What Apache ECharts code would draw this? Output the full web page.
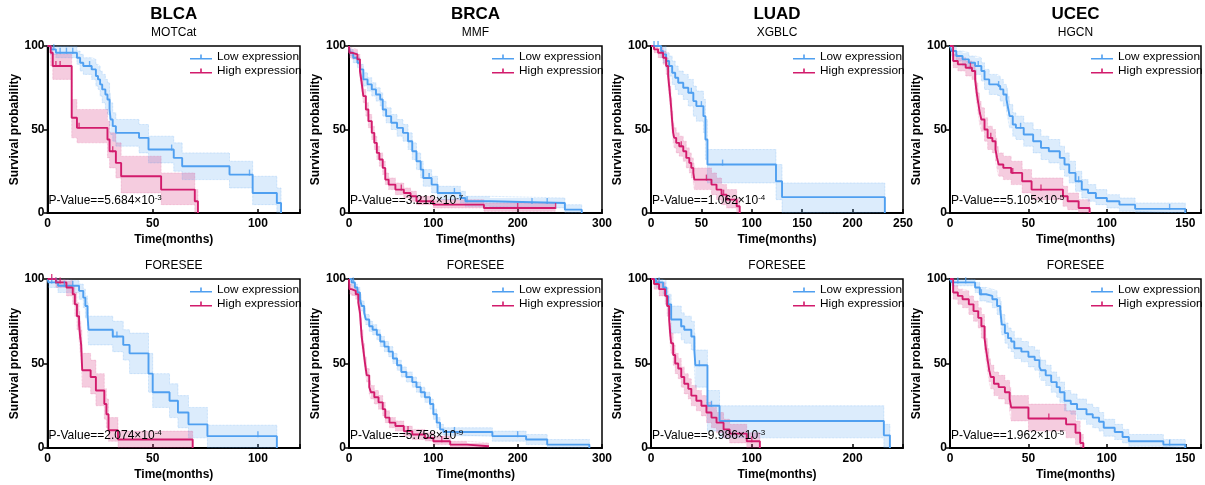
<!DOCTYPE html>
<html><head><meta charset="utf-8">
<script src="https://cdn.jsdelivr.net/npm/echarts@6/dist/echarts.min.js"></script>
<style>html,body{margin:0;padding:0;background:#fff}#c{width:1205px;height:485px}</style>
</head><body><div id="c"></div>
<script>
// ---------------- DATA ----------------
const cancers = ['BLCA', 'BRCA', 'LUAD', 'UCEC'];
const topMethods = ['MOTCat', 'MMF', 'XGBLC', 'HGCN'];
const bottomMethod = 'FORESEE';
const seriesNames = ['Low expression', 'High expression'];
const xMaxTop = [120, 300, 250, 160];
const xMaxBottom = [120, 300, 250, 160];
const xIntervalTop = [50, 100, 50, 50];
const xIntervalBottom = [50, 100, 100, 50];
const yTicks = [0, 50, 100];
const pMantTop = ['5.684', '3.212', '1.062', '5.105'];
const pExpTop = ['-3', '-7', '-4', '-5'];
const pMantBottom = ['2.074', '5.758', '9.986', '1.962'];
const pExpBottom = ['-4', '-9', '-3', '-5'];

// rows: [time, survival, lowerCI, upperCI]
const BLCA_MOTCAT_LOW = [[0,100,100,100],[1.5,98,95,100],[4,96,93,100],[14,93,89,97],[15.5,90,85,95],[17,88,83,93],[21,86,80,92],[23,82,76,89],[24,80,74,88],[25,77,70,85],[26,74,66,83],[27.5,71,62,80],[28.5,68,59,78],[29.5,62,52,72],[30,56,47,66],[31,52,43,60],[32.5,48,40,56],[43.5,45,36,53],[48,38,30,46],[60,33,25,42],[64,28,20,36],[86.5,23,15,31],[97.5,12,5,22],[109,6,0,15],[111,0,0,0]];
const BLCA_MOTCAT_HIGH = [[0,100,100,100],[1.5,96,88,100],[2.5,88,80,95],[11.5,57,45,68],[14,51,42,62],[28.5,44,33,55],[29.5,37,27,48],[32.5,30,21,42],[35,22,12,34],[54,14,5,24],[70,7,0,14],[71.5,0,0,0]];
const BLCA_MOTCAT_LOW_CENS = [3, 6, 9, 12, 20, 59, 96];
const BLCA_MOTCAT_HIGH_CENS = [4, 6, 15, 31];

const BRCA_MMF_LOW = [[0,100,100,100],[1,96,94,98],[5,93,90,96],[10,90,87,93],[13,86,82,89],[17,80,76,84],[22,77,73,81],[27,74,70,78],[32,71,67,75],[37,68,64,72],[40,62,58,67],[44,58,54,63],[50,54,50,59],[57,51,46,56],[64,48,43,53],[70,43,38,48],[75,37,32,42],[80,31,26,36],[85,26,21,31],[88,21,16,26],[98,17,12,22],[105,12,8,16],[132,9,6,13],[138,7,4,10],[167,6,3,9],[256,2,0,5],[276,0,0,0]];
const BRCA_MMF_HIGH = [[0,100,100,100],[0.5,96,93,99],[3,95,92,98],[10,92,89,95],[13,85,81,89],[15,78,74,82],[17,70,66,74],[20,62,58,66],[23,55,51,59],[27,48,44,52],[30,42,38,46],[33,36,32,40],[36,32,28,36],[40,27,23,31],[43,20,17,24],[47,17,14,21],[55,14,11,18],[65,12,9,15],[73,10,7,13],[80,7,5,10],[100,5,3,8],[160,3,1,6],[245,3,1,6]];
const BRCA_MMF_LOW_CENS = [95, 125, 140, 217, 235];
const BRCA_MMF_HIGH_CENS = [62, 85, 200, 245];

const LUAD_XGBLC_LOW = [[0,100,100,100],[10,97,93,100],[12,95,90,100],[15,91,86,96],[18,88,82,94],[21,84,77,91],[24,81,74,88],[27,78,71,85],[32,75,68,83],[37,72,64,80],[42,67,58,76],[45,64,55,73],[52,58,48,68],[54,44,32,56],[56,29,18,38],[124,19,8,29],[130,9.5,0,18],[232,0,0,0]];
const LUAD_XGBLC_HIGH = [[0,100,100,100],[3,98,96,100],[7,96,93,99],[12,93,89,97],[15,88,83,93],[17,82,76,88],[18,76,70,82],[19,70,64,76],[20,63,57,69],[21,55,49,61],[22,48,42,54],[23,45,39,51],[25,42,36,48],[28,40,34,46],[32,37,31,43],[35,33,27,39],[38,30,24,36],[40,27,21,33],[42,24,18,30],[43,20,14,27],[60,17,11,24],[65,14,8,21],[70,11,5,17],[75,8,3,14],[85,4,0,9],[88,0,0,0]];
const LUAD_XGBLC_LOW_CENS = [3, 7, 40, 50, 71];
const LUAD_XGBLC_HIGH_CENS = [30, 55, 72];

const UCEC_HGCN_LOW = [[0,100,100,100],[1,97,94,100],[4,94,91,97],[8,92,88,96],[12,90,86,94],[16,88,83,93],[20,85,79,90],[22,80,74,86],[25,77,71,83],[30,76,70,82],[32,74,67,80],[34,71,64,77],[36,68,61,75],[37,63,56,70],[38,58,51,65],[40,53,46,60],[42,51,44,58],[47,47,40,54],[53,43,36,50],[58,39,32,46],[63,37,30,44],[70,33,26,40],[73,29,22,36],[76,24,18,31],[80,19,13,25],[84,14,9,20],[88,12,7,17],[93,9,5,14],[100,7,3,11],[108,5,1,9],[118,2.5,0,6],[150,0,0,0]];
const UCEC_HGCN_HIGH = [[0,100,100,100],[2,91,87,95],[5,89,85,93],[10,87,82,91],[14,85,80,90],[16,80,74,86],[17,72,66,78],[18,66,59,72],[19,60,53,67],[20,56,49,63],[22,50,43,57],[24,45,38,52],[27,43,36,50],[29,38,31,45],[30,33,26,40],[31,29,22,36],[34,27,20,34],[39,24,17,31],[46,19,12,26],[52,14,8,21],[72,10,4,16],[75,7,2,12],[82,3,0,8],[89,0,0,0]];
const UCEC_HGCN_LOW_CENS = [18, 31, 45, 82, 140];
const UCEC_HGCN_HIGH_CENS = [13, 26, 40, 58];

const BLCA_FORESEE_LOW = [[0,100,100,100],[0.5,98,95,100],[5,96,92,99],[15,93,88,97],[17,89,83,94],[18,84,77,90],[19,79,72,86],[19.5,70,61,78],[31,66,57,75],[36,61,52,70],[39,56,44,68],[48,44,33,56],[50,33,24,44],[58,28,18,38],[62,21,12,31],[67,14,6,24],[76,7,0,13.5],[109,0,0,0]];
const BLCA_FORESEE_HIGH = [[0,100,100,100],[4,98,95,100],[9,95,90,99],[12,91,85,96],[13,85,78,92],[14,78,70,86],[15,73,64,81],[15.5,66,57,75],[16,61,52,70],[16.5,46,36,56],[20.5,42,32,52],[23,34,25,44],[27,26,17,35],[28,20,12,29],[29,10.5,4,18],[33.5,5,0,10],[69,0,0,0]];
const BLCA_FORESEE_LOW_CENS = [2, 4, 8, 12, 31, 33, 100];
const BLCA_FORESEE_HIGH_CENS = [2, 4, 6];

const BRCA_FORESEE_LOW = [[0,100,100,100],[3,98,96,100],[7,95,93,97],[10,92,89,95],[13,88,85,91],[15,84,81,87],[18,80,77,83],[20,76,73,79],[24,72,69,75],[28,70,67,73],[33,67,64,70],[37,63,60,66],[42,60,57,63],[47,57,54,60],[52,53,50,56],[57,49,46,52],[62,45,42,48],[68,42,39,45],[75,39,36,42],[80,36,33,39],[85,33,30,36],[90,30,27,33],[96,26,23,29],[100,20,17,23],[104,15,12,18],[108,11,8,14],[112,9.5,7,12],[170,7,4,10],[210,5,2,8],[235,2,0,5],[285,0,0,0]];
const BRCA_FORESEE_HIGH = [[0,100,100,100],[0.5,94,91,97],[3,93,90,96],[8,91,88,94],[11,86,83,89],[13,80,76,84],[14,73,69,77],[15,66,62,70],[17,58,54,62],[19,50,46,54],[21,43,39,47],[24,36,32,40],[26,33,29,37],[30,30,26,34],[35,27,23,31],[40,23,19,27],[43,18,15,22],[48,15,12,18],[55,13,10,16],[65,10,7,13],[75,8,5,11],[90,6,4,9],[100,4,2,7],[120,2,0,4],[140,1,0,3],[166,1,0,3]];
const BRCA_FORESEE_LOW_CENS = [5, 125, 200];
const BRCA_FORESEE_HIGH_CENS = [70, 110];

const LUAD_FORESEE_LOW = [[0,100,100,100],[5,98,95,100],[12,95,91,99],[15,90,85,95],[17,85,79,91],[20,76,68,84],[30,72,64,80],[33,70,62,78],[40,66,58,75],[43,58,48,68],[44,49,36,58],[56,25,10,34],[68,16,6,25],[231,7.5,0,14],[237,0,0,0]];
const LUAD_FORESEE_HIGH = [[0,100,100,100],[3,97,94,100],[8,94,90,98],[14,90,85,95],[16,84,78,90],[18,76,70,82],[19,68,62,74],[20,62,56,68],[22,55,49,61],[24,50,44,56],[27,47,41,53],[30,42,36,48],[33,38,32,44],[37,35,29,41],[40,31,25,37],[45,28,22,34],[50,25,19,31],[55,21,15,27],[60,18,12,24],[65,15,9,21],[72,11,6,17],[78,8.5,3,14],[95,4,0,9],[108,0,0,0]];
const LUAD_FORESEE_LOW_CENS = [8, 30, 48, 60];
const LUAD_FORESEE_HIGH_CENS = [100];

const UCEC_FORESEE_LOW = [[0,100,100,100],[1,98,96,100],[16,95,92,98],[19,91,87,95],[23,90,86,94],[27,88,83,93],[30,84,79,89],[32,82,77,87],[33,73,67,79],[35,68,62,74],[37,65,59,71],[39,63,57,69],[41,59,53,65],[45.5,57,51,63],[50,54,48,60],[54,52,46,58],[57,48,42,54],[58,46,40,52],[61,43,37,49],[64.5,39,33,45],[68,36,30,42],[70,33,27,39],[73,28,22,34],[77,26,20,32],[81,23,17,29],[87,20,14,26],[91,18,12,24],[95,15.5,10,21],[98,12,7,17],[105,9.5,5,14],[110,6.5,3,11],[114,4,1,8],[136,2,0,5],[150,0,0,0]];
const UCEC_FORESEE_HIGH = [[0,100,100,100],[2,92,88,96],[5,90,85,94],[8,88,83,93],[12,85,79,90],[15,81,75,87],[18,77,71,83],[20,72,65,79],[22,65,58,72],[23,58,51,65],[24,52,45,59],[25,46,39,53],[26,42,35,49],[28,38,31,45],[31,36,29,43],[35,33,26,40],[38,29,22,36],[39,24,16,31],[50,17.5,10,26],[74,14,6,22],[80,9,2,16],[83,3,0,8],[85,0,0,0]];
const UCEC_FORESEE_LOW_CENS = [5, 10, 20, 140];
const UCEC_FORESEE_HIGH_CENS = [63];

// ---------------- LAYOUT / STYLE ----------------
const FONT = "'Liberation Sans', Arial, Helvetica, sans-serif";
const BLUE = '#4f9ff0', RED = '#d21b6c';
const BLUE_BAND = 'rgba(79,159,240,0.20)', RED_BAND = 'rgba(214,40,120,0.24)';
const BLUE_DOT = 'rgba(79,159,240,0.45)', RED_DOT = 'rgba(214,40,120,0.35)';
const colLeft = [47.5, 349, 651, 950];
const colWidth = [252.5, 253, 252, 251];
const rowTop = [46, 279];
const rowHeight = [167, 169];

const curves = [
  [BLCA_MOTCAT_LOW, BLCA_MOTCAT_HIGH, BLCA_MOTCAT_LOW_CENS, BLCA_MOTCAT_HIGH_CENS],
  [BRCA_MMF_LOW, BRCA_MMF_HIGH, BRCA_MMF_LOW_CENS, BRCA_MMF_HIGH_CENS],
  [LUAD_XGBLC_LOW, LUAD_XGBLC_HIGH, LUAD_XGBLC_LOW_CENS, LUAD_XGBLC_HIGH_CENS],
  [UCEC_HGCN_LOW, UCEC_HGCN_HIGH, UCEC_HGCN_LOW_CENS, UCEC_HGCN_HIGH_CENS],
  [BLCA_FORESEE_LOW, BLCA_FORESEE_HIGH, BLCA_FORESEE_LOW_CENS, BLCA_FORESEE_HIGH_CENS],
  [BRCA_FORESEE_LOW, BRCA_FORESEE_HIGH, BRCA_FORESEE_LOW_CENS, BRCA_FORESEE_HIGH_CENS],
  [LUAD_FORESEE_LOW, LUAD_FORESEE_HIGH, LUAD_FORESEE_LOW_CENS, LUAD_FORESEE_HIGH_CENS],
  [UCEC_FORESEE_LOW, UCEC_FORESEE_HIGH, UCEC_FORESEE_LOW_CENS, UCEC_FORESEE_HIGH_CENS]
];

function survAt(rows, t) {
  let v = rows[0][1];
  for (const r of rows) { if (r[0] <= t) v = r[1]; else break; }
  return v;
}

function bandRenderer(rows, fill) {
  return function (params, api) {
    if (params.dataIndex !== 0) return;
    const up = [], lo = [];
    for (let i = 0; i < rows.length; i++) {
      const t0 = rows[i][0];
      const t1 = i + 1 < rows.length ? rows[i + 1][0] : rows[i][0];
      up.push(api.coord([t0, rows[i][3]]), api.coord([t1, rows[i][3]]));
      lo.push(api.coord([t0, rows[i][2]]), api.coord([t1, rows[i][2]]));
    }
    return { type: 'polygon', shape: { points: up.concat(lo.reverse()) }, style: { fill: fill } };
  };
}

const grids = [], xAxes = [], yAxes = [], series = [], legends = [], graphics = [];
const boldText = { color: '#000', fontWeight: 'bold', fontSize: 12, fontFamily: FONT };

for (let g = 0; g < 8; g++) {
  const row = g < 4 ? 0 : 1, col = g % 4;
  const left = colLeft[col], top = rowTop[row], w = colWidth[col], h = rowHeight[row];
  const xMax = row === 0 ? xMaxTop[col] : xMaxBottom[col];
  const xInt = row === 0 ? xIntervalTop[col] : xIntervalBottom[col];
  grids.push({ left: left, top: top, width: w, height: h, show: true, borderColor: '#000', borderWidth: 1.5, backgroundColor: 'transparent' });
  xAxes.push({
    type: 'value', gridIndex: g, min: 0, max: xMax, interval: xInt,
    axisLine: { show: true, onZero: false, lineStyle: { color: '#000', width: 2 } },
    axisTick: { show: true, inside: true, length: 4, lineStyle: { color: '#000', width: 1.5 } },
    axisLabel: Object.assign({ margin: 5, formatter: v => (v % xInt === 0 ? String(v) : '') }, boldText),
    splitLine: { show: false },
    name: 'Time(months)', nameLocation: 'middle', nameGap: 21, nameTextStyle: boldText
  });
  yAxes.push({
    type: 'value', gridIndex: g, min: yTicks[0], max: yTicks[2], interval: yTicks[1] - yTicks[0],
    axisLine: { show: true, onZero: false, lineStyle: { color: '#000', width: 2 } },
    axisTick: { show: true, inside: false, length: 4, lineStyle: { color: '#000', width: 1.5 } },
    axisLabel: Object.assign({ margin: 3 }, boldText),
    splitLine: { show: false },
    name: 'Survival probability', nameLocation: 'middle', nameGap: 26, nameTextStyle: boldText
  });

  const [lowRows, highRows, lowC, highC] = curves[g];
  const groups = [
    { rows: lowRows, cens: lowC, color: BLUE, band: BLUE_BAND, dot: BLUE_DOT, name: seriesNames[0] },
    { rows: highRows, cens: highC, color: RED, band: RED_BAND, dot: RED_DOT, name: seriesNames[1] }
  ];
  const base = { xAxisIndex: g, yAxisIndex: g, step: 'end', symbol: 'none', silent: true, animation: false };
  groups.forEach((G) => {
    series.push({
      type: 'custom', coordinateSystem: 'cartesian2d', xAxisIndex: g, yAxisIndex: g, silent: true, animation: false,
      data: G.rows.map(r => [r[0], r[2], r[3]]), encode: { x: 0, y: [1, 2] },
      renderItem: bandRenderer(G.rows, G.band), z: 1
    });
    series.push(Object.assign({}, base, { type: 'line', data: G.rows.map(r => [r[0], r[3]]), lineStyle: { color: G.dot, width: 0.7, type: 'dotted' }, z: 2 }));
    series.push(Object.assign({}, base, { type: 'line', data: G.rows.map(r => [r[0], r[2]]), lineStyle: { color: G.dot, width: 0.7, type: 'dotted' }, z: 2 }));
  });
  groups.forEach((G) => {
    series.push(Object.assign({}, base, { type: 'line', name: G.name, color: G.color, data: G.rows.map(r => [r[0], r[1]]), lineStyle: { color: G.color, width: 1.9 }, z: 3 }));
  });
  groups.forEach((G) => {
    series.push({ type: 'scatter', xAxisIndex: g, yAxisIndex: g, silent: true, animation: false, symbol: 'rect', symbolSize: [1.4, 6], symbolOffset: [0, -2], itemStyle: { color: G.color }, data: G.cens.map(t => [t, survAt(G.rows, t)]), z: 4 });
  });

  legends.push({
    data: seriesNames, orient: 'vertical', left: left + w - 115, top: top - 1,
    icon: 'path://M0,3.4H22V5H0Z M10.2,0H11.8V5H10.2Z', itemWidth: 22, itemHeight: 5, itemGap: 0,
    itemStyle: { borderWidth: 0 }, selectedMode: false,
    textStyle: { color: '#000', fontSize: 11.8, fontFamily: FONT, padding: [0, 0, 0, 0], lineHeight: 14 }
  });

  const mant = row === 0 ? pMantTop[col] : pMantBottom[col];
  const ex = row === 0 ? pExpTop[col] : pExpBottom[col];
  graphics.push({
    type: 'text', x: left + 1, y: top + h - 12, z: 10, silent: true,
    style: {
      text: '{m|P-Value==' + mant + '×10}{e|' + ex + '}',
      verticalAlign: 'middle',
      rich: {
        m: { fontSize: 12, fontFamily: FONT, fill: '#000', lineHeight: 14 },
        e: { fontSize: 8, fontFamily: FONT, fill: '#000', verticalAlign: 'top', lineHeight: 8 }
      }
    }
  });
  const cx = left + w / 2;
  if (row === 0) {
    graphics.push({ type: 'text', x: cx, y: 14, silent: true, style: { text: cancers[col], fontSize: 17, fontWeight: 'bold', fontFamily: FONT, fill: '#000', align: 'center', verticalAlign: 'middle' } });
    graphics.push({ type: 'text', x: cx, y: 32.5, silent: true, style: { text: topMethods[col], fontSize: 12, fontFamily: FONT, fill: '#000', align: 'center', verticalAlign: 'middle' } });
  } else {
    graphics.push({ type: 'text', x: cx, y: 266, silent: true, style: { text: bottomMethod, fontSize: 12, fontFamily: FONT, fill: '#000', align: 'center', verticalAlign: 'middle' } });
  }
}

const chart = echarts.init(document.getElementById('c'), null, { renderer: 'canvas' });
chart.setOption({
  animation: false,
  backgroundColor: '#fff',
  grid: grids, xAxis: xAxes, yAxis: yAxes, legend: legends, series: series, graphic: graphics
});
</script></body></html>
